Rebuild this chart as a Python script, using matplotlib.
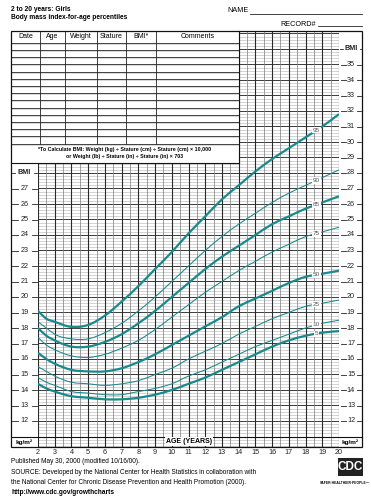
import matplotlib
matplotlib.use("Agg")
import matplotlib.pyplot as plt
import numpy as np
from matplotlib.patches import Rectangle, PathPatch
from matplotlib.path import Path

plt.rcParams['font.family'] = ['Liberation Sans', 'DejaVu Sans']

# ---------------- data ----------------
ages = [2, 2.5, 3, 4, 5, 6, 7, 8, 9, 10, 11, 12, 13, 14, 15, 16, 17, 18, 19, 20]
p5 = [14.4, 14.1, 13.9, 13.6, 13.5, 13.4, 13.4, 13.5, 13.7, 14.0, 14.4, 14.8, 15.3, 15.8, 16.3, 16.8, 17.2, 17.5, 17.7, 17.8]
p10 = [14.8, 14.5, 14.3, 13.9, 13.8, 13.7, 13.7, 13.9, 14.1, 14.4, 14.9, 15.3, 15.8, 16.3, 16.8, 17.2, 17.6, 18.0, 18.3, 18.5]
p25 = [15.5, 15.2, 14.9, 14.5, 14.4, 14.3, 14.4, 14.6, 15.0, 15.4, 16.0, 16.5, 17.0, 17.6, 18.1, 18.6, 19.0, 19.4, 19.6, 19.8]
p50 = [16.4, 16.0, 15.7, 15.3, 15.2, 15.2, 15.4, 15.8, 16.3, 16.9, 17.5, 18.1, 18.7, 19.4, 19.9, 20.4, 20.9, 21.3, 21.5, 21.7]
p75 = [17.4, 16.9, 16.6, 16.2, 16.1, 16.3, 16.7, 17.2, 17.9, 18.7, 19.5, 20.3, 21.0, 21.7, 22.3, 22.9, 23.4, 23.9, 24.2, 24.5]
p85 = [18.0, 17.5, 17.2, 16.8, 16.8, 17.1, 17.6, 18.3, 19.1, 20.0, 20.9, 21.8, 22.6, 23.3, 24.0, 24.7, 25.2, 25.7, 26.1, 26.5]
p90 = [18.4, 18.0, 17.6, 17.3, 17.3, 17.7, 18.3, 19.1, 20.0, 21.0, 22.0, 23.0, 23.9, 24.7, 25.4, 26.1, 26.7, 27.2, 27.7, 28.2]
p95 = [19.1, 18.6, 18.4, 18.07, 18.2, 18.8, 19.7, 20.7, 21.8, 22.9, 24.1, 25.2, 26.3, 27.2, 28.1, 28.9, 29.6, 30.3, 31.0, 31.8]

percentiles = [("5", p5, True), ("10", p10, False), ("25", p25, False), ("50", p50, True),
               ("75", p75, False), ("85", p85, True), ("90", p90, False), ("95", p95, True)]

left_bmi_labels = list(range(12, 28))
right_bmi_labels = list(range(12, 36))
age_ticks = list(range(2, 21))
table_headers = ["Date", "Age", "Weight", "Stature", "BMI*", "Comments"]

TEAL = '#19898b'
W, H = 371, 500

# ---------------- figure ----------------
fig = plt.figure(figsize=(W / 100, H / 100), dpi=100)

GX0, GX1 = 38, 339          # age 2 .. 20
GY_TOP, GY_BOT = 31, 447    # frame top/bottom
PX_PER_BMI = 15.5
Y12 = 421
def bmi_at(py):
    return 12 + (Y12 - py) / PX_PER_BMI

ax = fig.add_axes([GX0 / W, 1 - GY_BOT / H, (GX1 - GX0) / W, (GY_BOT - GY_TOP) / H])
ax.set_xlim(2, 20)
ax.set_ylim(bmi_at(GY_BOT), bmi_at(GY_TOP))
ax.axis('off')

ylo, yhi = bmi_at(GY_BOT), bmi_at(GY_TOP)
for b in np.arange(np.ceil(ylo * 5) / 5, yhi, 0.2):
    if abs(b - round(b)) < 1e-6:
        continue
    ax.axhline(b, color='#c2c2c2', lw=0.5, zorder=1)
for b in range(int(np.ceil(ylo)), int(yhi) + 1):
    ax.axhline(b, color='#3a3a3a', lw=0.7, zorder=2)
for a in np.arange(2.5, 20, 1.0):
    ax.axvline(a, color='#7a7a7a', lw=0.5, zorder=2)
for a in age_ticks:
    ax.axvline(a, color='#2a2a2a', lw=0.8, zorder=3)


def smooth_path(x, y):
    """Cubic Hermite (as Bezier) path through the given points."""
    x = np.asarray(x, float)
    y = np.asarray(y, float)
    n = len(x)
    m = np.zeros(n)
    for i in range(n):
        if i == 0:
            m[i] = (y[1] - y[0]) / (x[1] - x[0])
        elif i == n - 1:
            m[i] = (y[-1] - y[-2]) / (x[-1] - x[-2])
        else:
            h0, h1 = x[i] - x[i - 1], x[i + 1] - x[i]
            s0, s1 = (y[i] - y[i - 1]) / h0, (y[i + 1] - y[i]) / h1
            m[i] = (s0 * h1 + s1 * h0) / (h0 + h1)
    verts = [(x[0], y[0])]
    codes = [Path.MOVETO]
    for i in range(n - 1):
        h = x[i + 1] - x[i]
        verts += [(x[i] + h / 3, y[i] + m[i] * h / 3),
                  (x[i + 1] - h / 3, y[i + 1] - m[i + 1] * h / 3),
                  (x[i + 1], y[i + 1])]
        codes += [Path.CURVE4] * 3
    return Path(verts, codes)


for name, vals, thick in percentiles:
    ax.add_patch(PathPatch(smooth_path(ages, vals), fill=False, ec=TEAL,
                           lw=1.6 if thick else 0.75, zorder=5, capstyle='butt'))
    la = 18.65
    ax.text(la, np.interp(la, ages, vals), name, fontsize=4.6, color='#555555',
            ha='center', va='center', zorder=6,
            bbox=dict(boxstyle='square,pad=0.1', fc='white', ec='none'))

# ---------------- overlay (pixel coords) ----------------
ov = fig.add_axes([0, 0, 1, 1], zorder=10)
ov.set_xlim(0, W)
ov.set_ylim(H, 0)
ov.axis('off')

def py_of(b):
    return Y12 - (b - 12) * PX_PER_BMI

FX0, FX1 = 11, 362
TX1 = GX0 + 12 * (GX1 - GX0) / 18.0   # age 14
FBOT = 163

ov.add_patch(Rectangle((FX0, GY_TOP), TX1 - FX0, FBOT - GY_TOP, fc='white', ec='none', zorder=1))
ov.add_patch(Rectangle((FX0, GY_TOP), FX1 - FX0, GY_BOT - GY_TOP, fc='none', ec='#111111', lw=0.9, zorder=5))

# table
col_x = [11, 40, 65, 97, 126, 156, TX1]
row_y = [42.7 + k * 7.2 for k in range(15)]
for y in row_y:
    ov.plot([FX0, TX1], [y, y], color='#222222', lw=0.6, zorder=3)
    ov.plot([FX0, TX1], [y + 1.0, y + 1.0], color='#bbbbbb', lw=0.4, zorder=2)
for x in col_x[1:-1]:
    ov.plot([x, x], [GY_TOP, row_y[-1]], color='#222222', lw=0.6, zorder=3)
ov.plot([TX1, TX1], [GY_TOP, FBOT], color='#111111', lw=0.8, zorder=3)
ov.plot([FX0, TX1], [FBOT, FBOT], color='#111111', lw=0.8, zorder=3)
for i, h in enumerate(table_headers):
    ov.text((col_x[i] + col_x[i + 1]) / 2, 37, h, fontsize=5, ha='center', va='center', zorder=4)
ov.text(125, 150, "*To Calculate BMI: Weight (kg) \u00f7 Stature (cm) \u00f7 Stature (cm) \u00d7 10,000",
        fontsize=3.8, fontweight='bold', ha='center', va='center', zorder=4)
ov.text(125, 156.5, "or Weight (lb) \u00f7 Stature (in) \u00f7 Stature (in) \u00d7 703",
        fontsize=3.8, fontweight='bold', ha='center', va='center', zorder=4)

def side_label(xc, y, txt, dash_l, dash_r, bold=False):
    ov.text(xc, y, txt, fontsize=5.2, ha='center', va='center', color='#222222',
            fontweight='bold' if bold else 'normal', zorder=6)
    ov.plot(dash_l, [y, y], color='#222222', lw=0.6, zorder=6)
    ov.plot(dash_r, [y, y], color='#222222', lw=0.6, zorder=6)

for b in left_bmi_labels:
    side_label(24.5, py_of(b), str(b), [12, 17.5], [31.5, 36.5])
side_label(24.5, py_of(28), "BMI", [12, 15], [34, 37], bold=True)
for b in right_bmi_labels:
    side_label(351, py_of(b), str(b), [341, 345.5], [356.5, 361])
side_label(351, py_of(36), "BMI", [340, 342.5], [359.5, 361.5], bold=True)

# kg/m2 row
y11 = py_of(11)
ov.plot([FX0, FX1], [y11, y11], color='#111111', lw=0.8, zorder=5)
ov.add_patch(Rectangle((FX0 + 1, y11 + 0.6), GX0 - FX0 - 1.5, GY_BOT - y11 - 1.2, fc='white', ec='none', zorder=4))
ov.add_patch(Rectangle((GX1 + 0.5, y11 + 0.6), FX1 - GX1 - 1.5, GY_BOT - y11 - 1.2, fc='white', ec='none', zorder=4))
ov.text(24.5, (y11 + GY_BOT) / 2, "kg/m\u00b2", fontsize=4.6, fontweight='bold', ha='center', va='center', zorder=6)
ov.text(350.5, (y11 + GY_BOT) / 2, "kg/m\u00b2", fontsize=4.6, fontweight='bold', ha='center', va='center', zorder=6)
ov.text(189, (y11 + GY_BOT) / 2, "AGE (YEARS)", fontsize=5, fontweight='bold', ha='center', va='center', zorder=6,
        bbox=dict(boxstyle='square,pad=0.15', fc='white', ec='none'))

for a in age_ticks:
    ov.text(GX0 + (a - 2) * (GX1 - GX0) / 18.0, 452.5, str(a), fontsize=5.2, ha='center', va='center', color='#222222')

# header
ov.text(11, 9.5, "2 to 20 years: Girls", fontsize=4.8, fontweight='bold', ha='left', va='center')
ov.text(11, 17.5, "Body mass index-for-age percentiles", fontsize=4.8, fontweight='bold', ha='left', va='center')
ov.text(227, 11, "NAME", fontsize=5.2, ha='left', va='center')
ov.plot([250, 362], [13.5, 13.5], color='#222222', lw=0.6)
ov.text(280, 24, "RECORD#", fontsize=5.2, ha='left', va='center')
ov.plot([318, 362], [26, 26], color='#222222', lw=0.6)

# footer
ov.text(11, 461.5, "Published May 30, 2000 (modified 10/16/00).", fontsize=4.7, ha='left', va='center')
ov.text(11, 472, "SOURCE: Developed by the National Center for Health Statistics in collaboration with",
        fontsize=4.7, ha='left', va='center')
ov.text(11, 482.5, "the National Center for Chronic Disease Prevention and Health Promotion (2000).",
        fontsize=4.7, ha='left', va='center')
ov.text(11, 493, "http://www.cdc.gov/growthcharts", fontsize=4.7, fontweight='bold', ha='left', va='center')

# CDC logo
ov.add_patch(Rectangle((338, 458), 25, 18, fc='#222222', ec='none'))
ov.text(350.5, 467, "CDC", fontsize=8.5, fontweight='bold', color='white', ha='center', va='center')
ov.text(345, 483, "SAFER\u00b7HEALTHIER\u00b7PEOPLE\u2122", fontsize=2.4, fontweight='bold', ha='center', va='center')

fig.savefig("out.png", dpi=100)
